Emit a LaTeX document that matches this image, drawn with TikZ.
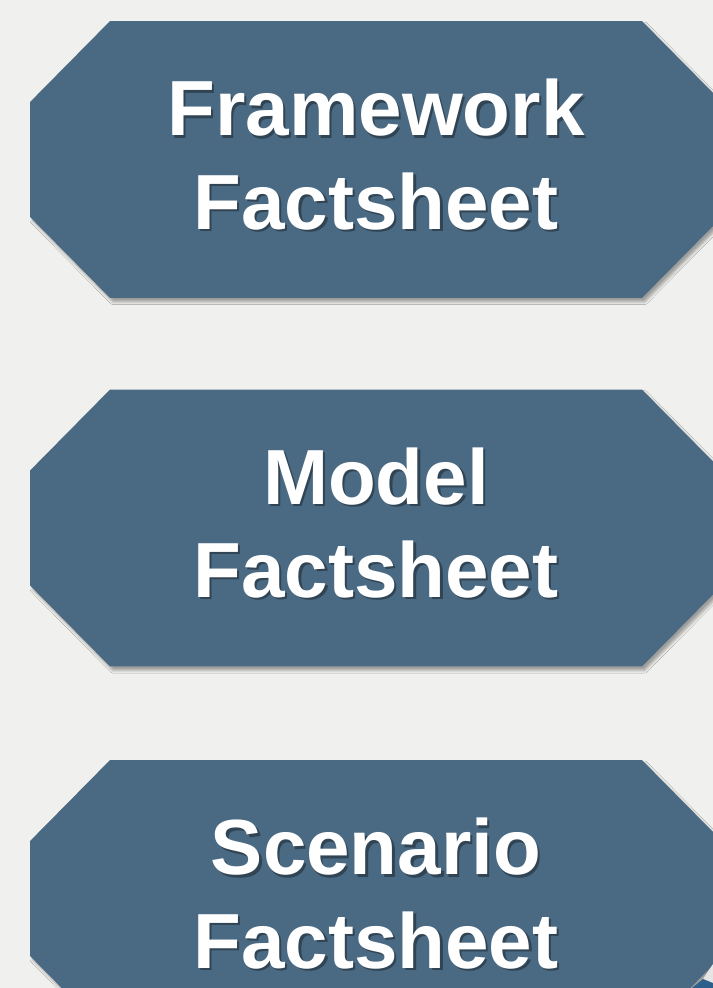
\documentclass[tikz,border=0pt]{standalone}
\usepackage{fontspec}
\setmainfont{Liberation Sans}
\usepackage[svgnames]{xcolor}
\usetikzlibrary{shadows.blur}
\definecolor{sheetbg}{HTML}{F0F0EE}
\definecolor{sheetblue}{HTML}{4A6982}
\definecolor{sheetdeep}{HTML}{2C5F8C}
\colorlet{sheetshade}{black}

\begin{document}
\begin{tikzpicture}[
  x=0.02cm, y=-0.02cm,
  sheet frame/.style={rectangle, minimum width=13.84cm, minimum height=5.54cm,
    inner sep=0pt, outer sep=0pt},
  sheet box/.style={fill=sheetblue,
    blur shadow={shadow xshift=1.6pt, shadow yshift=-2.2pt, shadow blur radius=1.6pt, shadow opacity=35}},
  sheet text/.style={text=white, font=\bfseries\fontsize{44.5}{53}\selectfont, align=center, inner sep=0pt},
  sheet shade/.style={sheet text, text=sheetshade, opacity=.35},
]
\fill[sheetbg] (0,0) rectangle (713,988);
\clip (0,0) rectangle (713,988);
\useasboundingbox (0,0) rectangle (713,988);

\foreach \nm/\ypos/\first in {fw/159.5/Framework,md/528/Model,sc/898.5/Scenario}
{
  \node[sheet frame] (\nm) at (376,\ypos) {};
  \path[sheet box] ([xshift=1.6cm]\nm.north west) -- ([xshift=-1.6cm]\nm.north east)
    -- ([yshift=-1.62cm]\nm.north east) -- ([yshift=1.62cm]\nm.south east)
    -- ([xshift=-1.6cm]\nm.south east) -- ([xshift=1.6cm]\nm.south west)
    -- ([yshift=1.62cm]\nm.south west) -- ([yshift=-1.62cm]\nm.north west) -- cycle;
  \node[sheet shade] (\nm-shade) at ([xshift=1.3pt,yshift=1.6pt]\nm.center) {\first\\Factsheet};
  \node[sheet text] (\nm-text) at ([yshift=0.1cm]\nm.center) {\first\\Factsheet};
}

% corner of the next sheet
\fill[white!80!gray] (703,979) -- (713,964) -- (713,983) -- cycle;
\fill[sheetdeep] (692,988) -- (703,979) -- (713,983) -- (713,988) -- cycle;
\end{tikzpicture}
\end{document}
